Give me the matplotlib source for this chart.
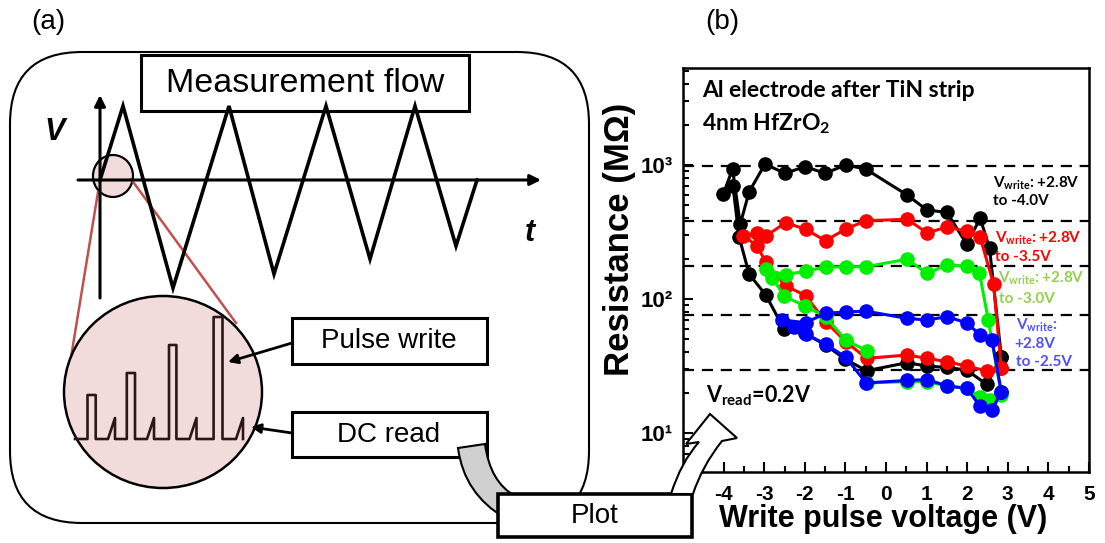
import matplotlib
matplotlib.use("Agg")
import matplotlib.pyplot as plt
from matplotlib.patches import FancyBboxPatch, Rectangle, Ellipse, PathPatch
from matplotlib.path import Path
from matplotlib.ticker import FixedLocator, MultipleLocator, LogLocator, NullFormatter

plt.rcParams['font.family'] = ['Liberation Sans', 'DejaVu Sans']
plt.rcParams['axes.unicode_minus'] = False
plt.rcParams['mathtext.fontset'] = 'custom'
plt.rcParams['mathtext.rm'] = 'Lato:bold'
plt.rcParams['mathtext.it'] = 'Lato:bold'
plt.rcParams['mathtext.bf'] = 'Lato:bold'

# ---------------- R-V hysteresis data (write voltage in V, resistance in MOhm) ----------------
v_to_m40 = [2.84, 2.48, 1.99, 1.50, 1.01, 0.52, -0.48, -1.00, -1.49, -2.00, -2.51, -2.96,
            -3.37, -3.62, -3.77, -4.01, -3.78, -3.59, -3.37, -2.98, -2.49, -1.99, -1.50,
            -0.99, -0.50, 0.52, 1.01, 1.50, 1.99, 2.32, 2.55, 2.84]
r_to_m40 = [37, 23, 29.4, 30.8, 31.5, 33.4, 29.1, 35.4, 45.3, 55.3, 59.3, 107,
            153, 292, 697, 604, 933, 362, 632, 1016, 867, 971, 867,
            1000, 933, 597, 461, 443, 256, 400, 239, 37]

v_to_m35 = [2.84, 2.48, 1.99, 1.50, 1.01, 0.52, -0.48, -0.99, -1.49, -1.98, -2.47, -2.96,
            -3.18, -3.51, -3.18, -2.96, -2.47, -1.98, -1.49, -0.99, -0.49, 0.52, 1.01,
            1.50, 1.99, 2.32, 2.65, 2.84]
r_to_m35 = [30.3, 29, 31.5, 34, 36, 38.1, 36, 48, 67.6, 106, 125, 188,
            250, 295, 309, 295, 371, 331, 272, 333, 384, 393, 312,
            343, 321, 288, 129, 30.3]

v_to_m30 = [-0.48, -0.99, -1.49, -2.00, -2.51, -2.80, -2.96, -2.47, -1.98, -1.49, -0.99,
            -0.49, 0.52, 1.01, 1.50, 2.00, 2.30, 2.52, 2.84, 2.57, 2.32, 1.99, 1.50,
            1.01, 0.52, -0.48]
r_to_m30 = [41, 49.3, 73.6, 88.5, 105, 144, 166, 151, 162, 172, 174,
            174, 198, 155, 179, 176, 157, 69.6, 19.2, 17.6, 18.6, 21.5, 22.4,
            24.1, 24.1, 23.6]

v_to_m25 = [2.84, 2.61, 2.32, 1.99, 1.50, 1.01, 0.52, -0.49, -0.99, -1.49, -1.98, -2.27,
            -2.55, -1.98, -1.49, -0.99, -0.49, 0.52, 1.01, 1.50, 1.99, 2.32, 2.61, 2.84]
r_to_m25 = [20.3, 14.8, 15.8, 21.5, 22.4, 25, 24.6, 23.6, 36.6, 46, 54.7, 62,
            69.6, 66.4, 78, 80, 81, 71.5, 69.6, 73.6, 66.3, 53.7, 49.3, 20.3]

ref_levels = [975, 385, 175, 76, 29.5]

x_tick_values = [-4, -3, -2, -1, 0, 1, 2, 3, 4, 5]
x_tick_labels = ['-4', '-3', '-2', '-1', '0', '1', '2', '3', '4', '5']
y_tick_values = [10, 100, 1000]
y_tick_labels = ['10¹', '10²', '10³']

W, H = 1105, 543
fig = plt.figure(figsize=(W / 100, H / 100), dpi=100)
fig.patch.set_facecolor('white')

# ---------------- panel (b): resistance vs write pulse voltage ----------------
ax = fig.add_axes([683 / W, 1 - 472 / H, 406 / W, 404 / H])
ax.set_yscale('log')
ax.set_xlim(-5, 5)
ax.set_ylim(5.1, 5300)

for lvl in ref_levels:
    ax.axhline(lvl, color='black', lw=1.6, ls=(0, (5, 3.5)), zorder=1)

series = [
    (v_to_m40, r_to_m40, '#000000'),
    (v_to_m35, r_to_m35, '#ff0000'),
    (v_to_m30, r_to_m30, '#00ee00'),
    (v_to_m25, r_to_m25, '#0000ff'),
]
for v, r, c in series:
    ax.plot(v, r, '-o', color=c, lw=2.2, ms=9.5, zorder=3)

for s in ax.spines.values():
    s.set_linewidth(1.8)
ax.xaxis.set_major_locator(FixedLocator(x_tick_values))
ax.set_xticklabels(x_tick_labels)
ax.xaxis.set_minor_locator(MultipleLocator(0.5))
ax.yaxis.set_major_locator(FixedLocator(y_tick_values))
ax.set_yticklabels(y_tick_labels)
ax.yaxis.set_minor_locator(LogLocator(base=10, subs=range(2, 10)))
ax.yaxis.set_minor_formatter(NullFormatter())
ax.tick_params(which='both', direction='in', top=False, right=False, width=1.5)
ax.tick_params(which='major', length=7)
ax.tick_params(which='minor', length=4)
ax.tick_params(axis='x', pad=9)
ax.tick_params(axis='y', pad=7)
for lab in ax.get_xticklabels():
    lab.set_fontweight('bold')
    lab.set_fontsize(15)
for lab in ax.get_yticklabels():
    lab.set_fontweight('bold')
    lab.set_fontsize(16)

fig.text(620 / W, 1 - 239 / H, 'Resistance (MΩ)', rotation=90, ha='center', va='center',
         fontsize=25, fontweight='bold')
fig.text(883 / W, 1 - 519 / H, 'Write pulse voltage (V)', ha='center', va='center',
         fontsize=22, fontweight='bold')


def afr(px, py):
    return (px - 683) / 406, 1 - (py - 68) / 404


def note(px, py, s, size, color='black'):
    x, y = afr(px, py)
    ax.text(x, y, s, transform=ax.transAxes, ha='left', va='baseline', fontsize=size,
            fontfamily='Lato', fontweight='bold', color=color, zorder=5)


note(702, 97, 'Al electrode after TiN strip', 16.5)
note(702, 130, '4nm HfZrO$_2$', 16.5)
note(993, 188, 'V$_{write}$: +2.8V', 11)
note(993, 205, 'to -4.0V', 11)
note(995, 243, 'V$_{write}$: +2.8V', 11, '#ff0000')
note(995, 261, 'to -3.5V', 11, '#ff0000')
note(998, 283, 'V$_{write}$: +2.8V', 11, '#92d050')
note(999, 303, 'to -3.0V', 11, '#92d050')
note(1016, 330, 'V$_{write}$:', 11, '#4f4fff')
note(1014, 348, '+2.8V', 11, '#4f4fff')
note(1016, 366, 'to -2.5V', 11, '#4f4fff')
note(706, 402, 'V$_{read}$=0.2V', 15.5)

# ---------------- panel (a): measurement flow schematic (pixel coordinates) ----------------
ov = fig.add_axes([0, 0, 1, 1])
ov.set_xlim(0, W)
ov.set_ylim(H, 0)
ov.axis('off')

pink = '#f2dcdb'
ov.text(48, 22, '(a)', fontsize=20, ha='center', va='center')
ov.text(722, 22, '(b)', fontsize=20, ha='center', va='center')

ov.add_patch(FancyBboxPatch((10, 52), 579, 471, boxstyle='round,pad=0,rounding_size=72',
                            fc='white', ec='black', lw=1.5, zorder=1))
ov.add_patch(Rectangle((141, 55), 328, 56, fc='white', ec='black', lw=2.2, zorder=2))
ov.text(305, 84, 'Measurement flow', fontsize=24.5, ha='center', va='center', zorder=3)

# zoom circle and guide lines
ov.add_patch(Ellipse((113, 176), 40, 42, fc=pink, ec='black', lw=1.6, zorder=2))
ov.plot([98, 66], [192, 388], color='#c0504d', lw=1.8, zorder=2)
ov.plot([131, 236], [179, 323], color='#c0504d', lw=1.8, zorder=2)

# V-t axes and triangular write waveform
ov.annotate('', xy=(541, 180), xytext=(78, 180),
            arrowprops=dict(arrowstyle='-|>', lw=2.2, color='black', mutation_scale=16,
                            shrinkA=0, shrinkB=0), zorder=3)
ov.annotate('', xy=(100, 95), xytext=(100, 298),
            arrowprops=dict(arrowstyle='-|>', lw=2.2, color='black', mutation_scale=16,
                            shrinkA=0, shrinkB=0), zorder=3)
wave_x = [100, 123, 173, 229, 274, 326, 370, 415, 456, 477]
wave_y = [180, 106, 288, 106, 274, 106, 259, 106, 246, 180]
ov.plot(wave_x, wave_y, color='black', lw=2.6, solid_joinstyle='miter', zorder=3)
ov.text(55, 132, 'V', fontsize=22, fontweight='bold', fontstyle='italic', ha='center', va='center')
ov.text(530, 233, 't', fontsize=22, fontweight='bold', fontstyle='italic', ha='center', va='center')

# magnified pulse train
ov.add_patch(Ellipse((163, 392), 198, 192, fc=pink, ec='black', lw=1.8, zorder=3))
base = 439
px, py = [75], [base]
pulses = [(87.5, 95.7, 395), (126.8, 135.0, 373), (169.0, 176.4, 345), (213.6, 222.5, 317)]
reads = [115, 154, 196.5, 243]
for (x1, x2, top), xr in zip(pulses, reads):
    px += [x1, x1, x2, x2, xr - 7, xr, xr]
    py += [base, top, top, base, base, 418, base]
ov.plot(px, py, color='#2a1818', lw=1.9, zorder=4)

# label boxes with pointers
ov.add_patch(Rectangle((292, 318), 195, 46, fc='white', ec='black', lw=2.2, zorder=3))
ov.text(389, 341, 'Pulse write', fontsize=20, ha='center', va='center', zorder=4)
ov.add_patch(Rectangle((292, 412), 195, 45, fc='white', ec='black', lw=2.2, zorder=3))
ov.text(389, 435, 'DC read', fontsize=20, ha='center', va='center', zorder=4)
ov.annotate('', xy=(228, 362), xytext=(292, 343),
            arrowprops=dict(arrowstyle='-|>', lw=2.0, color='black', mutation_scale=14,
                            shrinkA=0, shrinkB=0), zorder=4)
ov.annotate('', xy=(251, 427), xytext=(292, 433),
            arrowprops=dict(arrowstyle='-|>', lw=2.0, color='black', mutation_scale=14,
                            shrinkA=0, shrinkB=0), zorder=4)

# grey curved arrow from the read box to the plot box
grey_path = Path([(458, 448), (485, 444), (490, 482), (515, 496), (505, 518), (464, 494),
                  (458, 448), (458, 448)],
                 [Path.MOVETO, Path.LINETO, Path.CURVE3, Path.CURVE3, Path.LINETO,
                  Path.CURVE3, Path.CURVE3, Path.CLOSEPOLY])
ov.add_patch(PathPatch(grey_path, fc='#d0d0d0', ec='black', lw=1.5, zorder=3))

ov.add_patch(Rectangle((498, 494), 194, 43, fc='white', ec='black', lw=2.6, zorder=4))
ov.text(595, 516, 'Plot', fontsize=20, ha='center', va='center', zorder=5)

# white curved arrow from the plot box into panel (b)
white_path = Path([(671, 494), (681, 462), (699, 442), (686, 444), (710, 414), (737, 438),
                   (722, 441), (702, 466), (693, 494), (671, 494)],
                  [Path.MOVETO, Path.CURVE3, Path.CURVE3, Path.LINETO, Path.LINETO,
                   Path.LINETO, Path.LINETO, Path.CURVE3, Path.CURVE3, Path.CLOSEPOLY])
ov.add_patch(PathPatch(white_path, fc='white', ec='black', lw=1.5, zorder=5))

fig.savefig('out.png', dpi=100, facecolor='white')
